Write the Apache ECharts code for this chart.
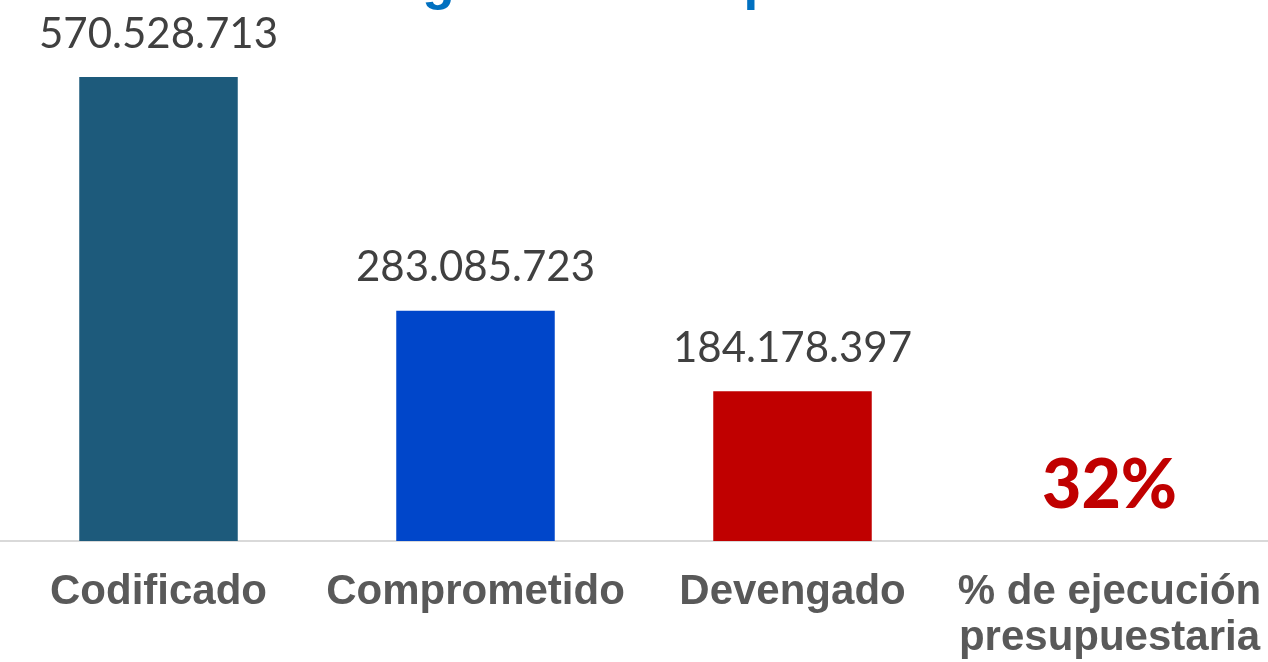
<!DOCTYPE html>
<html>
<head>
<meta charset="utf-8">
<script src="https://cdn.jsdelivr.net/npm/echarts@6/dist/echarts.min.js"></script>
<style>
  html, body { margin: 0; padding: 0; background: #fff; }
  #chart { width: 1268px; height: 662px; }
</style>
</head>
<body>
<div id="chart"></div>
<script>
// datos
const categories = ['Codificado', 'Comprometido', 'Devengado', '% de ejecución\npresupuestaria']
const amounts = [570528713, 283085723, 184178397]
const barColors = ['#1D5A7B', '#0046CA', '#C00000']
const execPct = 32

const fmt = v => String(v).replace(/\B(?=(\d{3})+(?!\d))/g, '.')

const seriesData = amounts.map((v, i) => ({
  value: v,
  itemStyle: { color: barColors[i] }
}))
seriesData.push({
  value: 0,
  itemStyle: { color: 'transparent' },
  label: {
    formatter: execPct + '%',
    color: '#C00000',
    fontFamily: 'Lato',
    fontWeight: 900,
    fontSize: 68,
    distance: 21
  }
})

const chart = echarts.init(document.getElementById('chart'))
chart.setOption({
  backgroundColor: '#fff',
  animation: false,
  graphic: [{
    type: 'text',
    left: 334,
    top: -42,
    style: {
      text: 'Programa Presupuestario',
      fill: '#0070C0',
      font: 'bold 53px "Liberation Sans", Arial, sans-serif'
    }
  }],
  grid: {
    left: 0,
    right: 0,
    top: 0,
    bottom: 121
  },
  xAxis: {
    type: 'category',
    data: categories,
    axisLine: {
      lineStyle: { color: '#D9D9D9', width: 2 }
    },
    axisTick: { show: false },
    axisLabel: {
      interval: 0,
      margin: 28,
      color: '#595959',
      fontFamily: 'Liberation Sans',
      fontWeight: 'bold',
      fontSize: 42,
      lineHeight: 46
    }
  },
  yAxis: {
    type: 'value',
    min: 0,
    max: 665200000,
    show: false,
    splitLine: { show: false }
  },
  series: [{
    type: 'bar',
    data: seriesData,
    barWidth: '50%',
    label: {
      show: true,
      position: 'top',
      distance: 22,
      color: '#404040',
      fontFamily: 'Lato',
      fontSize: 42,
      formatter: p => fmt(p.value)
    }
  }]
})
</script>
</body>
</html>
